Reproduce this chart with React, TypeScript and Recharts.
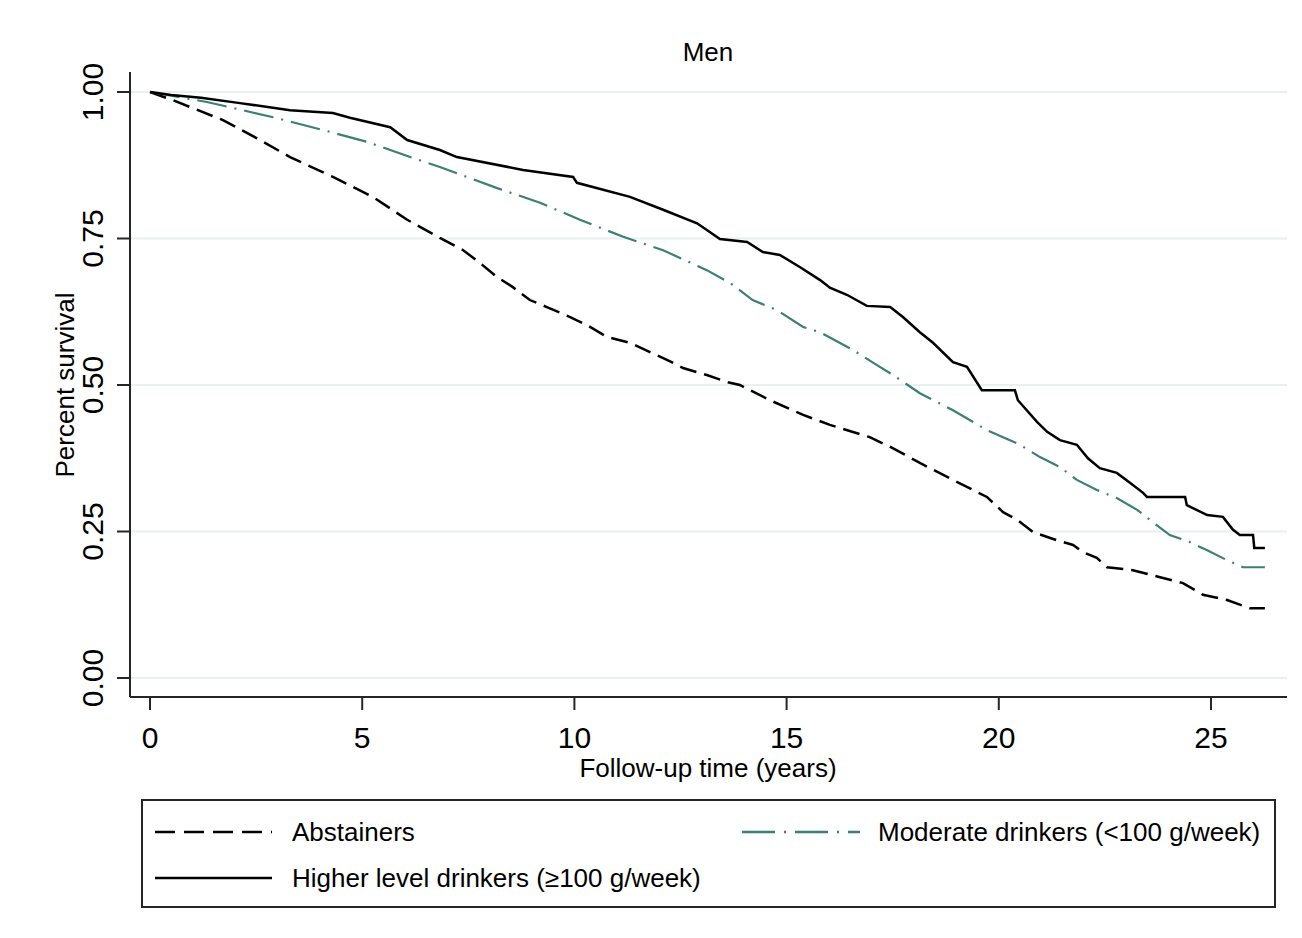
import React from "react";
import { LineChart, Line, XAxis, YAxis, ReferenceLine, Label } from "recharts";

// Follow-up time (years) and survival proportions
const abstainersTime = [0, 0.54, 1.72, 2.52, 3.3, 4.31, 5.25, 6.06, 6.83, 7.38, 7.78, 8.18, 8.55, 8.95, 9.35, 9.9, 10.3, 10.77, 11.31, 11.78, 12.18, 12.56, 13.12, 13.6, 13.9, 14.61, 15.39, 16.02, 16.96, 17.51, 18.14, 18.92, 19.72, 20.1, 20.43, 20.81, 21.37, 21.75, 21.98, 22.31, 22.55, 23.16, 23.8, 24.34, 24.81, 25.38, 25.92, 26.27];
const abstainersSurv = [1.0, 0.986, 0.952, 0.921, 0.889, 0.855, 0.821, 0.782, 0.751, 0.73, 0.708, 0.684, 0.667, 0.645, 0.633, 0.616, 0.602, 0.582, 0.572, 0.556, 0.543, 0.529, 0.517, 0.505, 0.5, 0.474, 0.449, 0.432, 0.411, 0.392, 0.367, 0.338, 0.309, 0.283, 0.27, 0.249, 0.235, 0.227, 0.215, 0.205, 0.189, 0.184, 0.172, 0.162, 0.142, 0.133, 0.119, 0.119];

const moderateTime = [0, 1.34, 2.9, 4.08, 5.11, 6.13, 6.83, 8.18, 9.19, 10.13, 11.15, 12.09, 13.12, 13.67, 14.2, 14.77, 15.39, 15.79, 16.56, 17.13, 17.51, 18.14, 18.92, 19.72, 20.1, 20.5, 20.97, 21.44, 21.84, 22.31, 22.78, 23.26, 23.63, 24.03, 24.5, 24.91, 25.38, 25.75, 26.27];
const moderateSurv = [1.0, 0.983, 0.957, 0.935, 0.915, 0.889, 0.872, 0.836, 0.811, 0.782, 0.753, 0.73, 0.696, 0.674, 0.645, 0.628, 0.599, 0.59, 0.56, 0.534, 0.517, 0.486, 0.457, 0.423, 0.411, 0.398, 0.377, 0.36, 0.338, 0.321, 0.307, 0.287, 0.266, 0.244, 0.232, 0.218, 0.201, 0.189, 0.189];

const higherTime = [0, 0.5, 1.2, 2.12, 3.3, 4.31, 4.71, 5.66, 6.06, 6.83, 7.23, 8.79, 9.97, 10.06, 11.31, 12.09, 12.89, 13.43, 14.07, 14.44, 14.84, 15.32, 15.79, 16.02, 16.42, 16.89, 17.44, 17.74, 18.14, 18.45, 18.92, 19.25, 19.6, 20.38, 20.45, 20.9, 21.14, 21.44, 21.84, 22.1, 22.38, 22.78, 23.09, 23.4, 23.49, 24.39, 24.43, 24.91, 25.28, 25.52, 25.68, 25.99, 26.02, 26.27];
const higherSurv = [1.0, 0.995, 0.99, 0.981, 0.969, 0.964, 0.956, 0.94, 0.918, 0.901, 0.889, 0.867, 0.855, 0.845, 0.821, 0.799, 0.776, 0.749, 0.744, 0.727, 0.722, 0.701, 0.679, 0.666, 0.654, 0.635, 0.633, 0.616, 0.59, 0.572, 0.539, 0.531, 0.491, 0.491, 0.474, 0.437, 0.42, 0.406, 0.398, 0.375, 0.358, 0.35, 0.333, 0.316, 0.309, 0.309, 0.295, 0.278, 0.275, 0.253, 0.244, 0.244, 0.222, 0.222];

const xTicks = [0, 5, 10, 15, 20, 25];
const yTicks = [0, 0.25, 0.5, 0.75, 1];

const seriesNames = ["Abstainers", "Moderate drinkers (<100 g/week)", "Higher level drinkers (\u2265100 g/week)"];

const toRows = (ts: number[], vs: number[]) => ts.map((t, i) => ({ t, v: vs[i] }));
const abstainers = toRows(abstainersTime, abstainersSurv);
const moderate = toRows(moderateTime, moderateSurv);
const higher = toRows(higherTime, higherSurv);

const FONT = "'Liberation Sans', Arial, sans-serif";
const TEAL = "#3b7f75";

const XTick = (props: any) => {
  const { x, y, payload } = props;
  return (
    <text x={x} y={y + 38} textAnchor="middle" fontSize={30} fontFamily={FONT} fill="#000">
      {payload.value}
    </text>
  );
};

const YTick = (props: any) => {
  const { x, y, payload } = props;
  const tx = x - 14;
  return (
    <text x={tx} y={y} transform={`rotate(-90, ${tx}, ${y})`} textAnchor="middle" fontSize={30} fontFamily={FONT} fill="#000">
      {Number(payload.value).toFixed(2)}
    </text>
  );
};

export default function App() {
  return (
    <div style={{ position: "absolute", left: 0, top: 0, width: 1302, height: 938, background: "#fff" }}>
      <LineChart width={1302} height={938} data={higher} margin={{ top: 72, right: 15, bottom: 211, left: 70 }}>
        {yTicks.map((v) => (
          <ReferenceLine key={v} y={v} stroke="#e8f0f2" strokeWidth={2} ifOverflow="visible" />
        ))}
        <XAxis
          dataKey="t"
          type="number"
          domain={[-0.4713, 26.7908]}
          ticks={xTicks}
          allowDataOverflow
          height={30}
          tickSize={13}
          tickMargin={0}
          tick={<XTick />}
          stroke="#262626"
          strokeWidth={2}
          tickLine={{ stroke: "#262626", strokeWidth: 2 }}
        >
          <Label
            content={() => (
              <text x={708} y={777} textAnchor="middle" fontSize={26} fontFamily={FONT} fill="#000">
                Follow-up time (years)
              </text>
            )}
          />
        </XAxis>
        <YAxis
          type="number"
          domain={[-0.03242, 1.03413]}
          ticks={yTicks}
          allowDataOverflow
          width={60}
          tickSize={13}
          tickMargin={0}
          tick={<YTick />}
          stroke="#262626"
          strokeWidth={2}
          tickLine={{ stroke: "#262626", strokeWidth: 2 }}
        >
          <Label
            content={() => (
              <g>
                <text x={74} y={385} transform="rotate(-90, 74, 385)" textAnchor="middle" fontSize={26} fontFamily={FONT} fill="#000">
                  Percent survival
                </text>
                <text x={708} y={61} textAnchor="middle" fontSize={26} fontFamily={FONT} fill="#000">
                  Men
                </text>
              </g>
            )}
          />
        </YAxis>
        <Line
          data={abstainers}
          dataKey="v"
          name={seriesNames[0]}
          type="linear"
          stroke="#000"
          strokeWidth={2.5}
          strokeDasharray="17 8"
          dot={false}
          activeDot={false}
          isAnimationActive={false}
        />
        <Line
          data={moderate}
          dataKey="v"
          name={seriesNames[1]}
          type="linear"
          stroke={TEAL}
          strokeWidth={2.2}
          strokeDasharray="30 8 2 8"
          dot={false}
          activeDot={false}
          isAnimationActive={false}
        />
        <Line
          data={higher}
          dataKey="v"
          name={seriesNames[2]}
          type="linear"
          stroke="#000"
          strokeWidth={2.5}
          dot={false}
          activeDot={false}
          isAnimationActive={false}
        />
      </LineChart>
      <svg style={{ position: "absolute", left: 0, top: 0 }} width={1302} height={938} pointerEvents="none">
        <rect x={142} y={800} width={1133} height={107} fill="none" stroke="#262626" strokeWidth={2} />
        <line x1={155} x2={272} y1={832} y2={832} stroke="#000" strokeWidth={2.5} strokeDasharray="20 9" />
        <text x={292} y={841} fontSize={26} fontFamily={FONT} fill="#000">{seriesNames[0]}</text>
        <line x1={742} x2={860} y1={832} y2={832} stroke={TEAL} strokeWidth={2.5} strokeDasharray="33 9 2 9" />
        <text x={878} y={841} fontSize={26} fontFamily={FONT} fill="#000">{seriesNames[1]}</text>
        <line x1={155} x2={272} y1={878} y2={878} stroke="#000" strokeWidth={2.5} />
        <text x={292} y={887} fontSize={26} fontFamily={FONT} fill="#000">{seriesNames[2]}</text>
      </svg>
    </div>
  );
}
